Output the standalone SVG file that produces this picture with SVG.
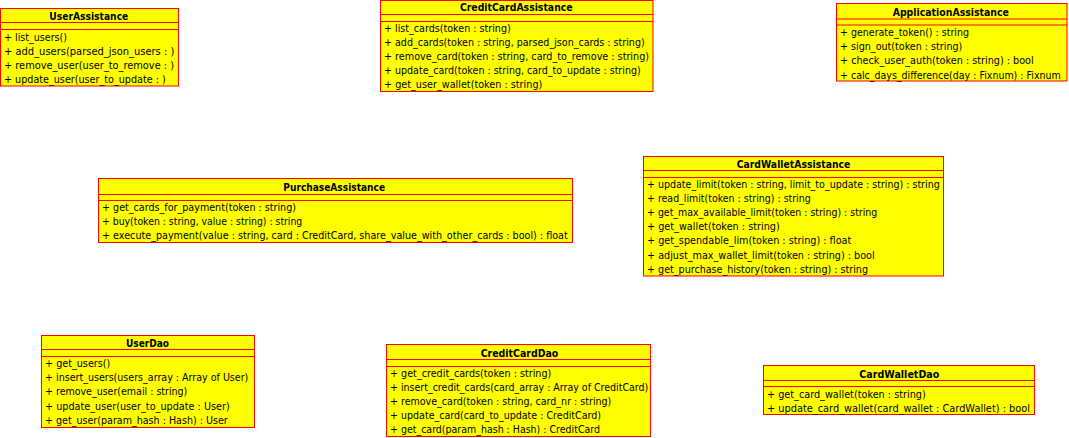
<svg xmlns="http://www.w3.org/2000/svg" width="1069" height="438" viewBox="0 0 1069 438">
<style>
.box{fill:#ffff00;stroke:#ff0000;stroke-width:1}
.div{stroke:#ff0000;stroke-width:1}
text{font-family:"DejaVu Sans","Liberation Sans",sans-serif;font-size:9.8px;fill:#000}
.t{font-weight:bold;text-anchor:middle}
</style>
<rect width="1069" height="438" fill="#fff"/>
<g id="connectors"></g>

<g id="UserAssistance">
<rect class="box" x="0.5" y="8.5" width="178" height="77.5"/>
<line class="div" x1="0.5" y1="22.5" x2="178.5" y2="22.5"/>
<line class="div" x1="0.5" y1="29.5" x2="178.5" y2="29.5"/>
<text class="t" x="88.8" y="19.5" textLength="79" lengthAdjust="spacingAndGlyphs">UserAssistance</text>
<text x="4" y="40.5" textLength="63" lengthAdjust="spacingAndGlyphs">+ list_users()</text>
<text x="4" y="54.7" textLength="170.3" lengthAdjust="spacingAndGlyphs">+ add_users(parsed_json_users : )</text>
<text x="4" y="68.9" textLength="170" lengthAdjust="spacingAndGlyphs">+ remove_user(user_to_remove : )</text>
<text x="4" y="83.1" textLength="161.7" lengthAdjust="spacingAndGlyphs">+ update_user(user_to_update : )</text>
</g>

<g id="CreditCardAssistance">
<rect class="box" x="380.5" y="0.5" width="272.5" height="91"/>
<line class="div" x1="380.5" y1="14.5" x2="653" y2="14.5"/>
<line class="div" x1="380.5" y1="21.5" x2="653" y2="21.5"/>
<text class="t" x="516.3" y="11" textLength="112.7" lengthAdjust="spacingAndGlyphs">CreditCardAssistance</text>
<text x="384" y="31.5" textLength="126.7" lengthAdjust="spacingAndGlyphs">+ list_cards(token : string)</text>
<text x="384" y="45.7" textLength="260.7" lengthAdjust="spacingAndGlyphs">+ add_cards(token : string, parsed_json_cards : string)</text>
<text x="384" y="59.9" textLength="265" lengthAdjust="spacingAndGlyphs">+ remove_card(token : string, card_to_remove : string)</text>
<text x="384" y="74.1" textLength="256.7" lengthAdjust="spacingAndGlyphs">+ update_card(token : string, card_to_update : string)</text>
<text x="384" y="88.3" textLength="158.3" lengthAdjust="spacingAndGlyphs">+ get_user_wallet(token : string)</text>
</g>

<g id="ApplicationAssistance">
<rect class="box" x="836.5" y="3.5" width="230.5" height="77.5"/>
<line class="div" x1="836.5" y1="19" x2="1067" y2="19"/>
<line class="div" x1="836.5" y1="25" x2="1067" y2="25"/>
<text class="t" x="950.8" y="15.5" textLength="116.3" lengthAdjust="spacingAndGlyphs">ApplicationAssistance</text>
<text x="840" y="36" textLength="129" lengthAdjust="spacingAndGlyphs">+ generate_token() : string</text>
<text x="840" y="50.2" textLength="122.3" lengthAdjust="spacingAndGlyphs">+ sign_out(token : string)</text>
<text x="840" y="64.4" textLength="193.7" lengthAdjust="spacingAndGlyphs">+ check_user_auth(token : string) : bool</text>
<text x="840" y="78.6" textLength="220.7" lengthAdjust="spacingAndGlyphs">+ calc_days_difference(day : Fixnum) : Fixnum</text>
</g>

<g id="PurchaseAssistance">
<rect class="box" x="98.5" y="178.5" width="474" height="64"/>
<line class="div" x1="98.5" y1="194.5" x2="572.5" y2="194.5"/>
<line class="div" x1="98.5" y1="200.5" x2="572.5" y2="200.5"/>
<text class="t" x="334.2" y="191" textLength="101.7" lengthAdjust="spacingAndGlyphs">PurchaseAssistance</text>
<text x="102" y="211" textLength="194" lengthAdjust="spacingAndGlyphs">+ get_cards_for_payment(token : string)</text>
<text x="102" y="225.2" textLength="200.3" lengthAdjust="spacingAndGlyphs">+ buy(token : string, value : string) : string</text>
<text x="102" y="239.4" textLength="465.7" lengthAdjust="spacingAndGlyphs">+ execute_payment(value : string, card : CreditCard, share_value_with_other_cards : bool) : float</text>
</g>

<g id="CardWalletAssistance">
<rect class="box" x="643.5" y="156.5" width="300" height="119.5"/>
<line class="div" x1="643.5" y1="170.5" x2="943.5" y2="170.5"/>
<line class="div" x1="643.5" y1="177.5" x2="943.5" y2="177.5"/>
<text class="t" x="793.5" y="167.5" textLength="113.7" lengthAdjust="spacingAndGlyphs">CardWalletAssistance</text>
<text x="647" y="187.5" textLength="292.7" lengthAdjust="spacingAndGlyphs">+ update_limit(token : string, limit_to_update : string) : string</text>
<text x="647" y="201.7" textLength="163.7" lengthAdjust="spacingAndGlyphs">+ read_limit(token : string) : string</text>
<text x="647" y="215.9" textLength="230.3" lengthAdjust="spacingAndGlyphs">+ get_max_available_limit(token : string) : string</text>
<text x="647" y="230.1" textLength="132.7" lengthAdjust="spacingAndGlyphs">+ get_wallet(token : string)</text>
<text x="647" y="244.3" textLength="204.3" lengthAdjust="spacingAndGlyphs">+ get_spendable_lim(token : string) : float</text>
<text x="647" y="258.5" textLength="227.7" lengthAdjust="spacingAndGlyphs">+ adjust_max_wallet_limit(token : string) : bool</text>
<text x="647" y="272.7" textLength="221" lengthAdjust="spacingAndGlyphs">+ get_purchase_history(token : string) : string</text>
</g>

<g id="UserDao">
<rect class="box" x="41.5" y="335.5" width="213" height="92"/>
<line class="div" x1="41.5" y1="349.5" x2="254.5" y2="349.5"/>
<line class="div" x1="41.5" y1="356.5" x2="254.5" y2="356.5"/>
<text class="t" x="147.5" y="347" textLength="43" lengthAdjust="spacingAndGlyphs">UserDao</text>
<text x="45" y="367" textLength="65.3" lengthAdjust="spacingAndGlyphs">+ get_users()</text>
<text x="45" y="381.2" textLength="203.3" lengthAdjust="spacingAndGlyphs">+ insert_users(users_array : Array of User)</text>
<text x="45" y="395.4" textLength="142.3" lengthAdjust="spacingAndGlyphs">+ remove_user(email : string)</text>
<text x="45" y="409.6" textLength="184.7" lengthAdjust="spacingAndGlyphs">+ update_user(user_to_update : User)</text>
<text x="45" y="423.8" textLength="182.7" lengthAdjust="spacingAndGlyphs">+ get_user(param_hash : Hash) : User</text>
</g>

<g id="CreditCardDao">
<rect class="box" x="386.5" y="344.5" width="264" height="92"/>
<line class="div" x1="386.5" y1="359.5" x2="650.5" y2="359.5"/>
<line class="div" x1="386.5" y1="366.5" x2="650.5" y2="366.5"/>
<text class="t" x="519.5" y="356.8" textLength="77.7" lengthAdjust="spacingAndGlyphs">CreditCardDao</text>
<text x="390" y="376.5" textLength="161.3" lengthAdjust="spacingAndGlyphs">+ get_credit_cards(token : string)</text>
<text x="390" y="390.7" textLength="258.3" lengthAdjust="spacingAndGlyphs">+ insert_credit_cards(card_array : Array of CreditCard)</text>
<text x="390" y="404.9" textLength="221.3" lengthAdjust="spacingAndGlyphs">+ remove_card(token : string, card_nr : string)</text>
<text x="390" y="419.1" textLength="211" lengthAdjust="spacingAndGlyphs">+ update_card(card_to_update : CreditCard)</text>
<text x="390" y="433.3" textLength="210" lengthAdjust="spacingAndGlyphs">+ get_card(param_hash : Hash) : CreditCard</text>
</g>

<g id="CardWalletDao">
<rect class="box" x="763.5" y="365.5" width="271" height="49"/>
<line class="div" x1="763.5" y1="380.5" x2="1034.5" y2="380.5"/>
<line class="div" x1="763.5" y1="386.5" x2="1034.5" y2="386.5"/>
<text class="t" x="899.3" y="377.5" textLength="80" lengthAdjust="spacingAndGlyphs">CardWalletDao</text>
<text x="767" y="397.5" textLength="158.7" lengthAdjust="spacingAndGlyphs">+ get_card_wallet(token : string)</text>
<text x="767" y="411.7" textLength="263" lengthAdjust="spacingAndGlyphs">+ update_card_wallet(card_wallet : CardWallet) : bool</text>
</g>
</svg>
